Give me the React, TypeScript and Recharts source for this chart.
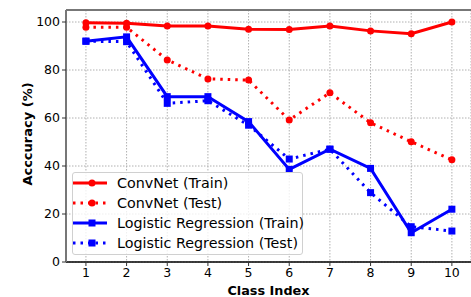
import React from 'react';
import { LineChart, Line, XAxis, YAxis, CartesianGrid, ReferenceLine } from 'recharts';

const classIndex = [1, 2, 3, 4, 5, 6, 7, 8, 9, 10];
const convTrain = [99.7, 99.5, 98.3, 98.3, 97.0, 96.9, 98.3, 96.3, 95.1, 100];
const convTest = [97.8, 97.8, 84.2, 76.3, 75.8, 59.2, 70.5, 58.0, 50.1, 42.6];
const lrTrain = [92.0, 93.8, 68.9, 68.9, 58.5, 38.6, 47.0, 39.0, 12.2, 22.0];
const lrTest = [92.0, 91.8, 66.1, 67.2, 57.0, 42.9, 47.0, 28.9, 14.7, 12.9];
const yTicks = [0, 20, 40, 60, 80, 100];
const seriesNames = ['ConvNet (Train)', 'ConvNet (Test)', 'Logistic Regression (Train)', 'Logistic Regression (Test)'];

const data = classIndex.map((c, i) => ({
  c,
  convTrain: convTrain[i],
  convTest: convTest[i],
  lrTrain: lrTrain[i],
  lrTest: lrTest[i],
}));

const FONT = '"DejaVu Sans", sans-serif';
const RED = '#ff0000';
const BLUE = '#0000ff';
const DOT = '2.5 5';

const Square = (props: any) => {
  const { cx, cy, fill } = props;
  if (cx == null || cy == null) return null;
  return <rect x={cx - 3.5} y={cy - 3.5} width={7} height={7} fill={fill} />;
};

const legendItems = [
  { name: seriesNames[0], color: RED, dash: undefined, shape: 'circle' },
  { name: seriesNames[1], color: RED, dash: DOT, shape: 'circle' },
  { name: seriesNames[2], color: BLUE, dash: undefined, shape: 'square' },
  { name: seriesNames[3], color: BLUE, dash: DOT, shape: 'square' },
];

const LegendBox = () => (
  <div
    style={{
      position: 'absolute',
      left: 72,
      top: 172,
      width: 231,
      height: 83,
      border: '1px solid #d0d0d0',
      borderRadius: 3,
      background: 'rgba(255,255,255,0.8)',
      boxSizing: 'border-box',
      paddingTop: 0,
    }}
  >
    {legendItems.map((it) => (
      <div key={it.name} style={{ display: 'flex', alignItems: 'center', height: 20 }}>
        <svg width={44} height={20} style={{ flex: 'none' }}>
          <line x1={0} x2={34} y1={10} y2={10} stroke={it.color} strokeWidth={3} strokeDasharray={it.dash} />
          {it.shape === 'circle' ? (
            <circle cx={19} cy={10} r={3.5} fill={it.color} />
          ) : (
            <rect x={15.5} y={6.5} width={7} height={7} fill={it.color} />
          )}
        </svg>
        <span style={{ fontFamily: FONT, fontSize: 14.3, color: '#000', whiteSpace: 'nowrap' }}>{it.name}</span>
      </div>
    ))}
  </div>
);

export default function App() {
  return (
    <div style={{ position: 'absolute', left: 0, top: 0, width: 471, height: 297, background: '#fff' }}>
      <LineChart width={471} height={297} data={data} margin={{ top: 10, right: 0, bottom: 0, left: 0 }}>
        <CartesianGrid stroke="#b0b0b0" strokeDasharray="1.5 1.5" />
        <XAxis
          dataKey="c"
          type="number"
          domain={[0.51, 10.47]}
          ticks={classIndex}
          height={35}
          axisLine={{ stroke: '#000', strokeWidth: 1.5 }}
          tickLine={{ stroke: '#333' }}
          tickSize={4}
          tick={{ fill: '#000', fontSize: 12.5, fontFamily: FONT }}
          interval={0}
        />
        <YAxis
          type="number"
          domain={[0, 105]}
          ticks={yTicks}
          width={66}
          axisLine={{ stroke: '#777', strokeWidth: 2 }}
          tickLine={{ stroke: '#333' }}
          tickSize={4}
          tick={{ fill: '#000', fontSize: 12.5, fontFamily: FONT }}
          interval={0}
        />
        <ReferenceLine y={105} stroke="#777" strokeWidth={2} ifOverflow="extendDomain" />
        <Line dataKey="convTrain" name={seriesNames[0]} stroke={RED} strokeWidth={3} isAnimationActive={false}
          dot={{ r: 3.5, fill: RED, stroke: RED, strokeWidth: 0 }} />
        <Line dataKey="convTest" name={seriesNames[1]} stroke={RED} strokeWidth={3} strokeDasharray={DOT} isAnimationActive={false}
          dot={{ r: 3.5, fill: RED, stroke: RED, strokeWidth: 0, strokeDasharray: '' }} />
        <Line dataKey="lrTrain" name={seriesNames[2]} stroke={BLUE} strokeWidth={3} isAnimationActive={false}
          dot={<Square fill={BLUE} />} />
        <Line dataKey="lrTest" name={seriesNames[3]} stroke={BLUE} strokeWidth={3} strokeDasharray={DOT} isAnimationActive={false}
          dot={<Square fill={BLUE} />} />
      </LineChart>
      <LegendBox />
      <div style={{ position: 'absolute', left: 0, top: 284, width: 471, paddingLeft: 66, boxSizing: 'border-box', textAlign: 'center', fontFamily: FONT, fontSize: 12.8, lineHeight: '14px', fontWeight: 'bold', color: '#000' }}>
        Class Index
      </div>
      <div style={{ position: 'absolute', left: 28, top: 134, transform: 'translate(-50%, -50%) rotate(-90deg)', fontFamily: FONT, fontSize: 13, lineHeight: '14px', fontWeight: 'bold', color: '#000', whiteSpace: 'nowrap' }}>
        Acccuracy (%)
      </div>
    </div>
  );
}
